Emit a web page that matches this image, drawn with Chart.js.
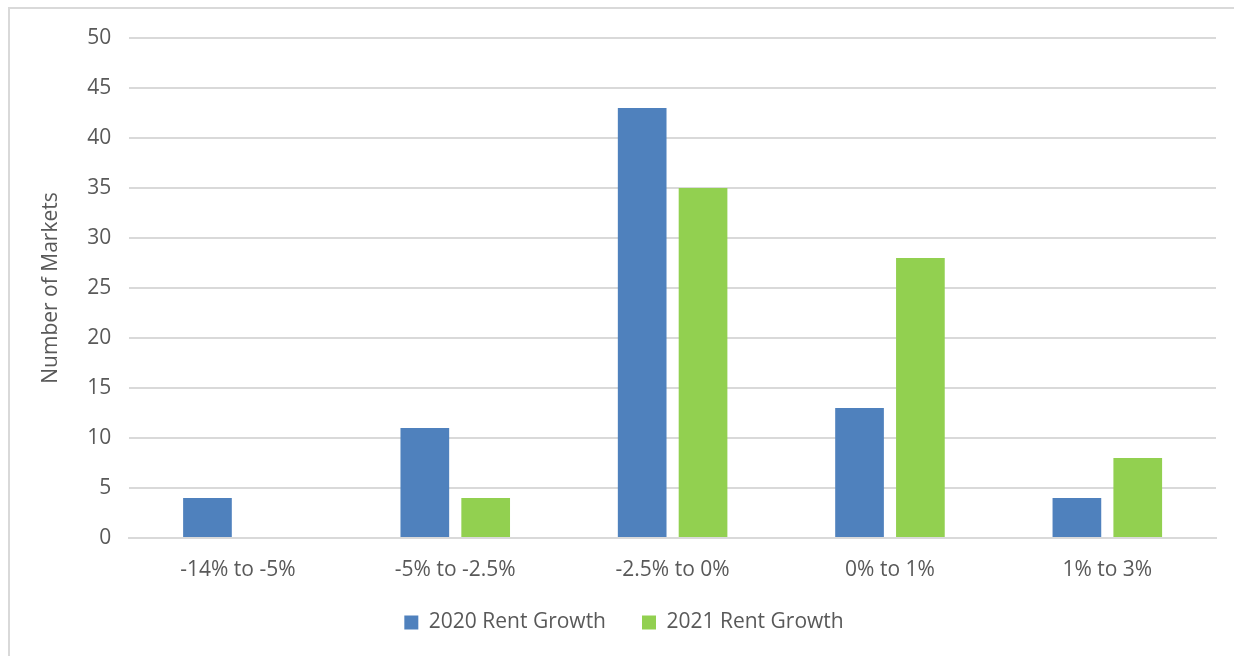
<!DOCTYPE html>
<html>
<head>
<meta charset="utf-8">
<script src="https://cdn.jsdelivr.net/npm/chart.js@4"></script>
<style>
  html, body { margin: 0; padding: 0; background: #fff; }
  #frame { position: absolute; left: 8px; top: 7px; width: 1240px; height: 680px; border: 2px solid #d9d9d9; box-sizing: border-box; }
  #wrap { position: absolute; left: 0; top: 0; width: 1234px; height: 656px; }
</style>
</head>
<body>
<div id="frame"></div>
<div id="wrap"><canvas id="chart"></canvas></div>
<script>
// bucket labels and counts
const categories = ['-14% to -5%', '-5% to -2.5%', '-2.5% to 0%', '0% to 1%', '1% to 3%'];
const rent2020 = [4, 11, 43, 13, 4];
const rent2021 = [0, 4, 35, 28, 8];

const textColor = '#595959';
const font = { family: "'Open Sans', 'Noto Sans', sans-serif", size: 21 };

// wide gap between legend items without a tall legend box
const legendHeight = {
  id: 'legendHeight',
  beforeInit(chart) {
    const fit = chart.legend.fit;
    chart.legend.fit = function () {
      fit.bind(chart.legend)();
      this.height = 60;
    };
  },
};

new Chart(document.getElementById('chart'), {
  type: 'bar',
  data: {
    labels: categories,
    datasets: [
      { label: '2020 Rent Growth', data: rent2020, backgroundColor: '#4f81bd', barPercentage: 0.8, categoryPercentage: 0.56 },
      { label: '2021 Rent Growth', data: rent2021, backgroundColor: '#92d050', barPercentage: 0.8, categoryPercentage: 0.56 },
    ],
  },
  options: {
    responsive: true,
    maintainAspectRatio: false,
    animation: false,
    layout: { padding: { left: 32, right: 18, top: 38, bottom: 20 } },
    plugins: {
      legend: {
        position: 'bottom',
        labels: { color: textColor, font: font, boxWidth: 14, boxHeight: 14, padding: 36 },
      },
      tooltip: { enabled: false },
    },
    scales: {
      x: {
        grid: { display: false },
        border: { color: '#d9d9d9', width: 2 },
        ticks: { color: textColor, font: font, padding: 11 },
        afterFit(axis) { axis.height = 38; },
      },
      y: {
        min: 0,
        max: 50,
        ticks: { stepSize: 5, color: textColor, font: font, padding: 18 },
        grid: { color: '#d9d9d9', lineWidth: 2, drawTicks: false },
        border: { display: false },
        title: { display: true, text: 'Number of Markets', color: textColor, font: font, padding: 6 },
      },
    },
  },
  plugins: [legendHeight],
});
</script>
</body>
</html>
